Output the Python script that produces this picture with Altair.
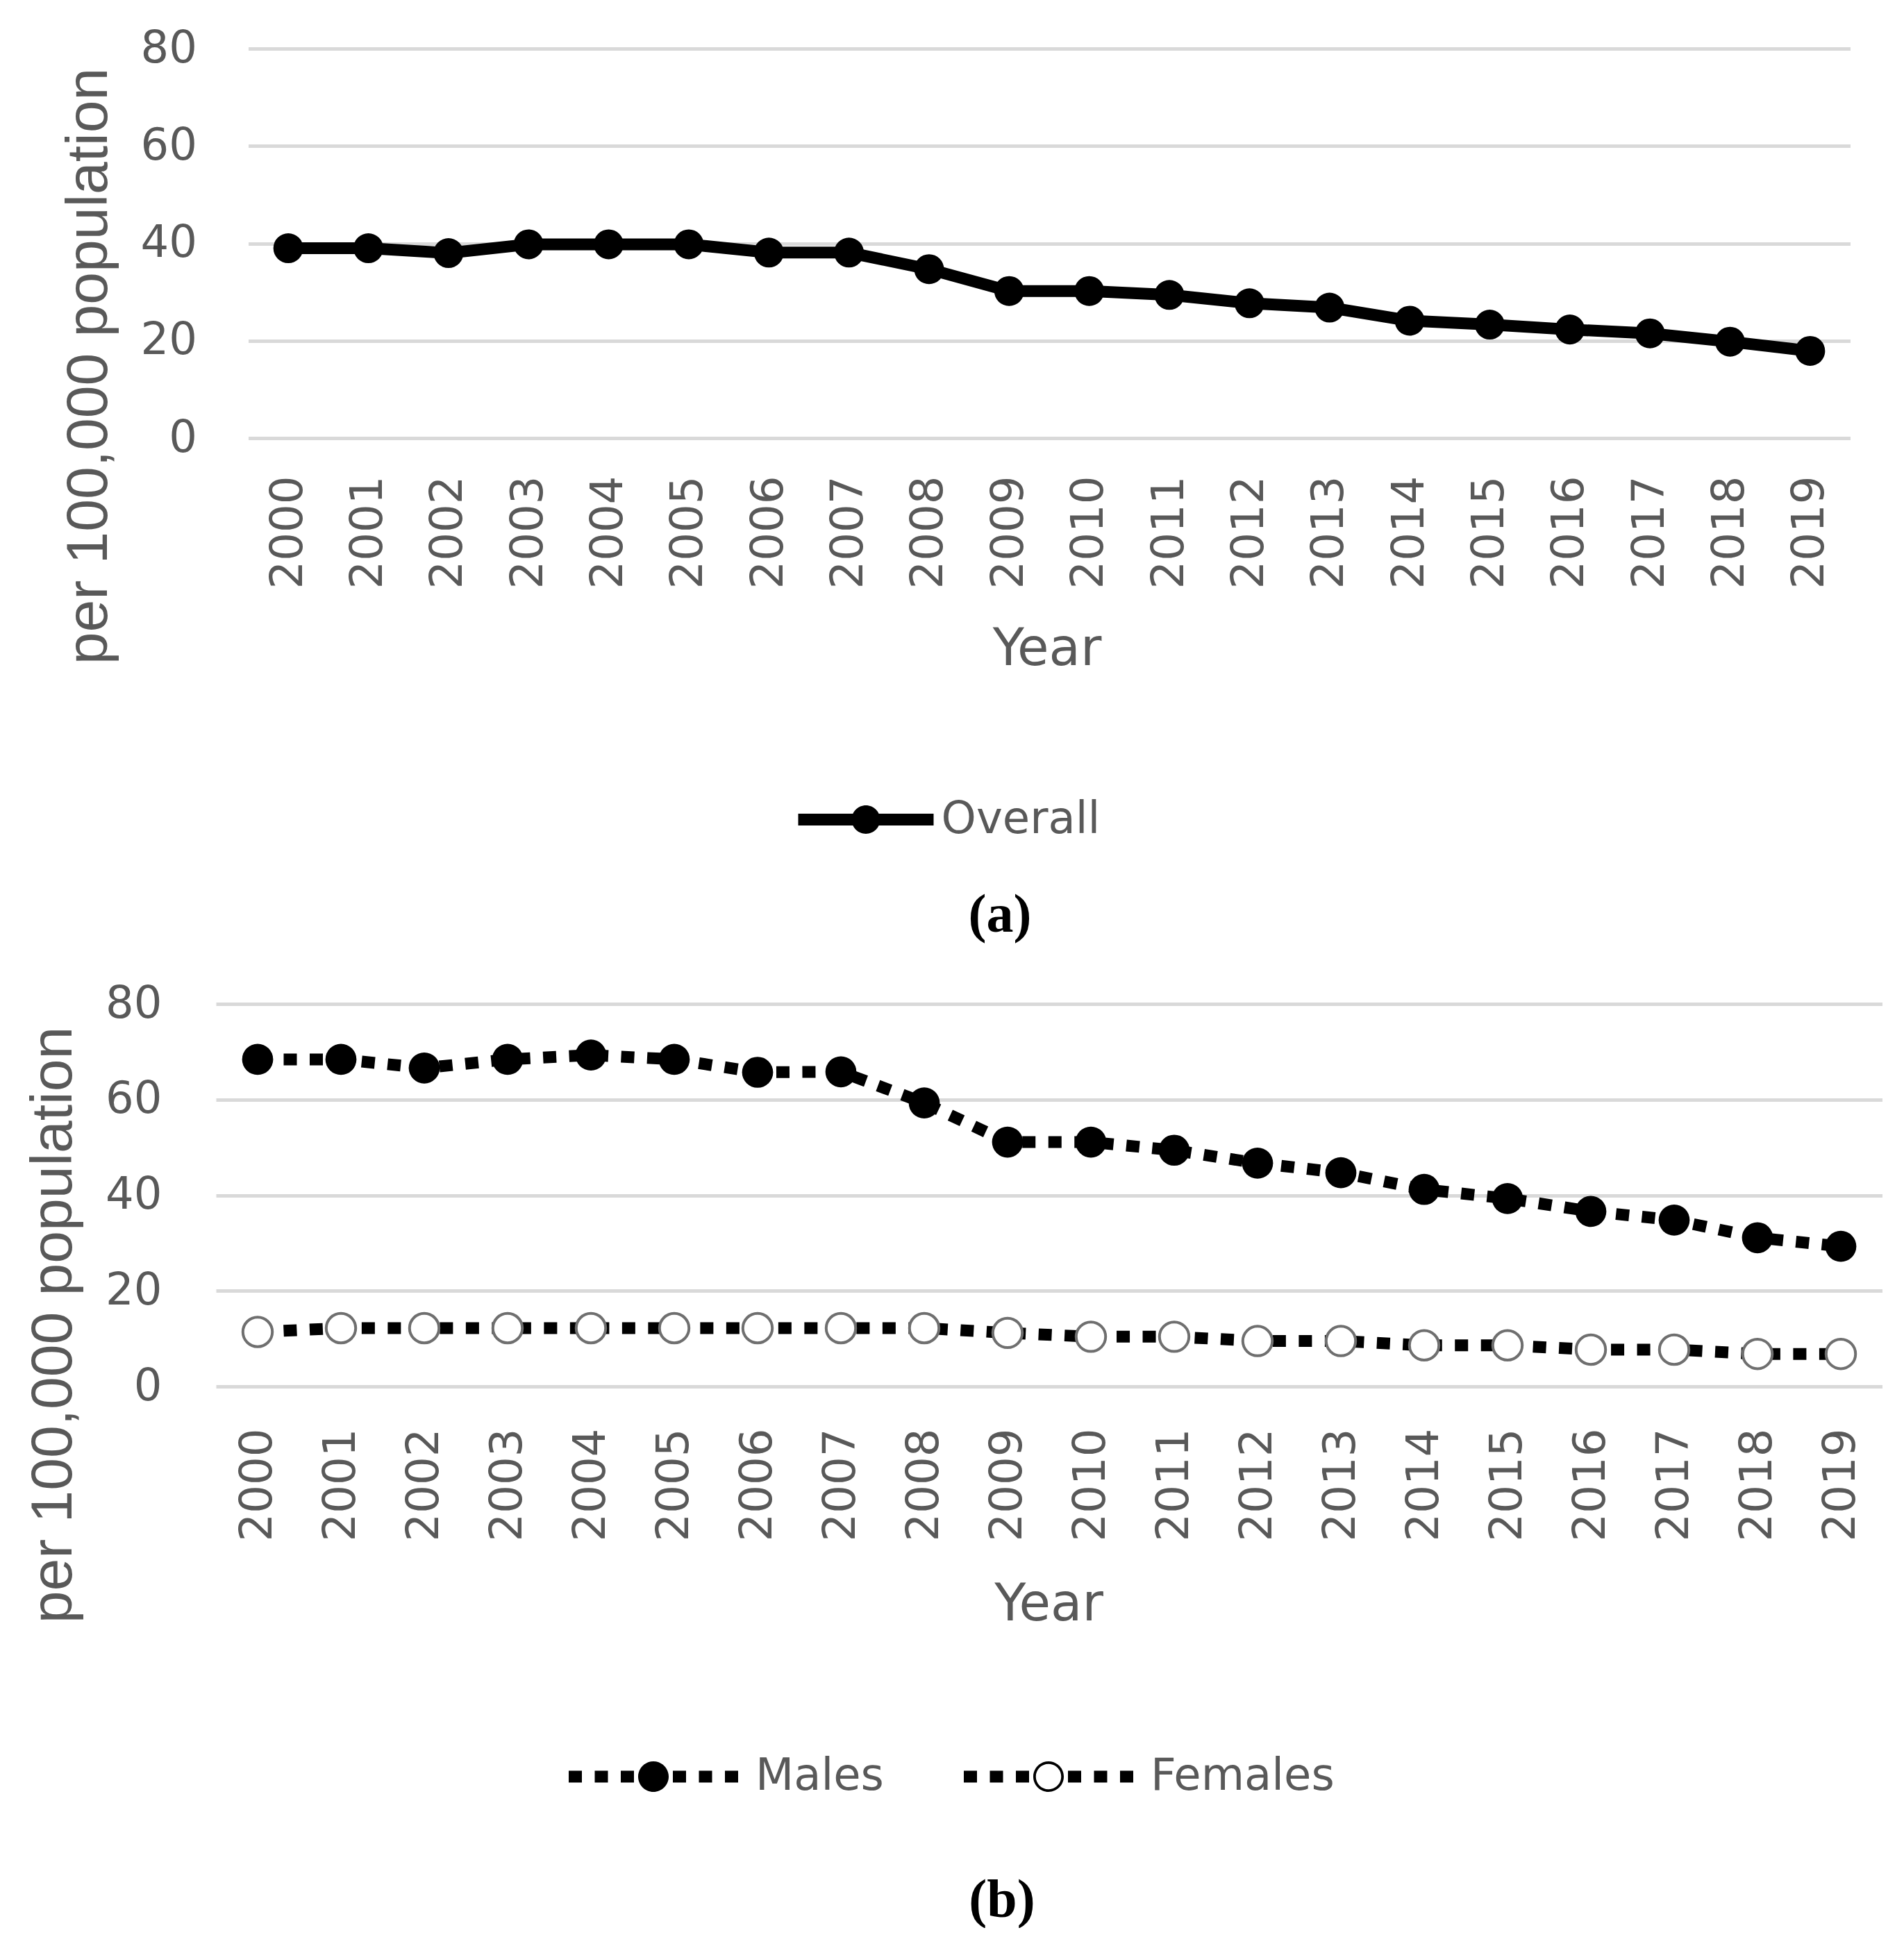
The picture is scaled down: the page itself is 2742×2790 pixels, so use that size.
import altair as alt
import pandas as pd

# ---------------- data ----------------
years = list(range(2000, 2020))
overall = [39.0, 39.0, 38.0, 39.8, 39.8, 39.8, 38.1, 38.1, 34.7, 30.2,
           30.2, 29.4, 27.7, 26.8, 24.1, 23.3, 22.3, 21.5, 19.8, 17.9]
males = [68.4, 68.4, 66.6, 68.4, 69.3, 68.4, 65.7, 65.8, 59.3, 51.1,
         51.1, 49.4, 46.7, 44.7, 41.2, 39.3, 36.6, 34.8, 31.1, 29.3]
females = [11.4, 12.2, 12.2, 12.2, 12.2, 12.2, 12.2, 12.2, 12.2, 11.2,
           10.4, 10.4, 9.5, 9.5, 8.6, 8.6, 7.7, 7.7, 6.8, 6.8]
y_ticks = [0, 20, 40, 60, 80]
series_a = ["Overall"]
series_b = ["Males", "Females"]

df_a = pd.DataFrame({"year": years, "value": overall, "series": series_a[0]})
df_b = pd.DataFrame({
    "year": years + years,
    "value": males + females,
    "series": [series_b[0]] * len(years) + [series_b[1]] * len(years),
})

# ---------------- styles ----------------
GRAY = "#595959"
GRID = "#d9d9d9"
SANS = "DejaVu Sans"
TITLE_SANS = "Liberation Sans"
SERIF = "Liberation Serif"


# ---------------- legend symbol paths (unit square [-1, 1]) ----------------
def _rect(cx, hw, hh):
    return (f"M{cx - hw:.4f},{-hh:.4f}H{cx + hw:.4f}V{hh:.4f}"
            f"H{cx - hw:.4f}Z")


def _circle_cw(r):
    return f"M0,{-r:.4f}A{r:.4f},{r:.4f} 0 1,1 0,{r:.4f}A{r:.4f},{r:.4f} 0 1,1 0,{-r:.4f}Z"


def _circle_ccw(r):
    return f"M0,{-r:.4f}A{r:.4f},{r:.4f} 0 1,0 0,{r:.4f}A{r:.4f},{r:.4f} 0 1,0 0,{-r:.4f}Z"


path_overall = _rect(0, 1.0, 0.088) + _circle_cw(0.21)

dash_centers = [-0.9, -0.6, -0.3, 0.3, 0.6, 0.9]
dashes = "".join(_rect(c, 0.076, 0.068) for c in dash_centers)
path_males = dashes + _circle_cw(0.176)
path_females = dashes + _circle_cw(0.176) + _circle_ccw(0.146)


def x_enc(title_x, title_y, label_pad):
    return alt.X(
        "year:O",
        scale=alt.Scale(type="point", padding=0.5),
        axis=alt.Axis(
            title="Year", labelAngle=270, labelPadding=label_pad,
            labelFont=SANS, labelFontSize=64, labelColor=GRAY,
            titleFont=SANS, titleFontSize=74, titleColor=GRAY,
            titleFontWeight="normal", titleX=title_x, titleY=title_y,
            titleBaseline="alphabetic", titleAlign="center",
            domain=False, ticks=False, grid=False,
        ),
    )


def y_enc(title_x, title_y, label_pad):
    return alt.Y(
        "value:Q",
        scale=alt.Scale(domain=[0, 80]),
        axis=alt.Axis(
            title="per 100,000 population", values=y_ticks,
            labelPadding=label_pad, labelFont=SANS, labelFontSize=64,
            labelColor=GRAY, titleFont=TITLE_SANS, titleFontSize=84,
            titleColor=GRAY, titleFontWeight="normal", titleX=title_x,
            titleY=title_y, titleAngle=270, titleBaseline="bottom",
            titleAlign="center", domain=False, ticks=False, grid=True,
            gridColor=GRID, gridWidth=5,
        ),
    )


def legend(x, y, sym, offset, colpad=10):
    return alt.Legend(
        title=None, orient="none", legendX=x, legendY=y,
        direction="horizontal", labelFont=SANS, labelFontSize=64,
        labelColor=GRAY, labelLimit=0, symbolSize=sym ** 2,
        symbolStrokeWidth=0, symbolOpacity=1, labelOffset=offset,
        columnPadding=colpad, padding=0,
    )


# ---------------- panel (a) ----------------
W_A, H_A = 2307, 561
xa = x_enc(1150, 326, 54)
ya = y_enc(-186, 457, 74)
base_a = alt.Chart(df_a)
line_a = base_a.mark_line(color="black", strokeWidth=17).encode(x=xa, y=ya)
pts_a = base_a.mark_point(shape="circle", filled=True, color="black",
                          size=1850, opacity=1).encode(x=xa, y=ya)
leg_a = base_a.transform_filter("datum.value < -1").mark_point(
    filled=True, color="black", opacity=1
).encode(
    shape=alt.Shape(
        "series:N",
        scale=alt.Scale(domain=series_a, range=[path_overall]),
        legend=legend(792, 1013, 195, 11),
    )
)
panel_a = alt.layer(line_a, pts_a, leg_a).properties(
    width=W_A, height=H_A,
    title=alt.TitleParams(
        "(a)", orient="bottom", anchor="middle", frame="group",
        font=SERIF, fontSize=78, fontWeight="bold", color="black",
        offset=67, dx=-71,
    ),
)

# ---------------- panel (b) ----------------
W_B, H_B = 2400, 551
xb = x_enc(1199, 336, 60)
yb = y_enc(-191, 462, 78)
base_b = alt.Chart(df_b)
line_b = base_b.mark_line(
    color="black", strokeWidth=17, strokeDash=[19, 18.5], strokeCap="butt"
).encode(x=xb, y=yb, detail="series:N")
pts_m = base_b.transform_filter(alt.datum.series == series_b[0]).mark_point(
    shape="circle", filled=True, color="black", size=2000, opacity=1
).encode(x=xb, y=yb)
pts_f = base_b.transform_filter(alt.datum.series == series_b[1]).mark_point(
    shape="circle", filled=True, fill="white", stroke="#6f6f6f",
    strokeWidth=4, size=1800, opacity=1
).encode(x=xb, y=yb)
leg_b = base_b.transform_filter("datum.value < -1").mark_point(
    filled=True, color="black", opacity=1
).encode(
    shape=alt.Shape(
        "series:N",
        scale=alt.Scale(domain=series_b, range=[path_males, path_females]),
        legend=legend(505, 988, 250, 22, 112),
    )
)
panel_b = alt.layer(line_b, pts_m, pts_f, leg_b).properties(
    width=W_B, height=H_B,
    title=alt.TitleParams(
        "(b)", orient="bottom", anchor="middle", frame="group",
        font=SERIF, fontSize=78, fontWeight="bold", color="black",
        offset=108, dx=-68,
    ),
)

chart = alt.vconcat(panel_a, panel_b, spacing=56, center=True).resolve_scale(
    shape="independent", x="independent", y="independent"
).resolve_legend(shape="independent").properties(
    padding={"left": 26, "top": 30, "right": 0, "bottom": 0},
    background="white",
).configure_view(stroke=None)

chart.save("out.html", embed_options={"renderer": "svg", "actions": False})
